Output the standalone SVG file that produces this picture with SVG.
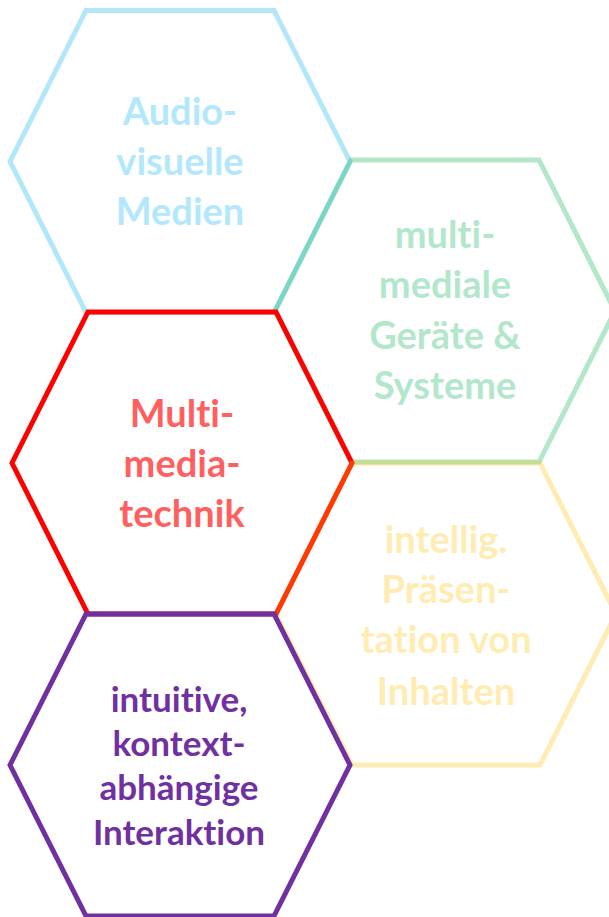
<svg xmlns="http://www.w3.org/2000/svg" width="609" height="917" viewBox="0 0 609 917">
<style>
.hex{fill:none;stroke-width:5;stroke-linejoin:miter}
.t{font-family:Lato,"Open Sans","Liberation Sans",sans-serif;font-weight:bold;text-anchor:middle;font-size:38px;font-variant-ligatures:none}
.t5{font-size:35px}
</style>
<defs>
<polygon id="hx" points="0,0 76,-151 264,-151 340,0 264,151 76,151"/>
</defs>
<g id="connectors"></g>
<g id="n1">
<use href="#hx" x="10" y="161.5" class="hex" stroke="#00B0F0" stroke-opacity="0.3"/>
<text class="t" fill="#B3E7FB"><tspan x="180" y="125">Audio-</tspan><tspan x="180" y="175">visuelle</tspan><tspan x="180" y="225">Medien</tspan></text>
</g>
<g id="n2">
<use href="#hx" x="275" y="311" class="hex" stroke="#00B050" stroke-opacity="0.3"/>
<text class="t" fill="#B3E7CB"><tspan x="445" y="248">multi-</tspan><tspan x="445" y="298">mediale</tspan><tspan x="445" y="349">Geräte &amp;</tspan><tspan x="445" y="399">Systeme</tspan></text>
</g>
<g id="n3">
<use href="#hx" x="12" y="463" class="hex" stroke="#FF0000"/>
<text class="t" fill="#FF5F5F"><tspan x="182" y="427">Multi-</tspan><tspan x="182" y="477">media-</tspan><tspan x="182" y="527">technik</tspan></text>
</g>
<g id="n4">
<use href="#hx" x="276" y="614" class="hex" stroke="#FFC000" stroke-opacity="0.3"/>
<text class="t" fill="#FFECB3"><tspan x="446" y="553">intellig.</tspan><tspan x="446" y="603">Präsen-</tspan><tspan x="446" y="653">tation von</tspan><tspan x="446" y="705">Inhalten</tspan></text>
</g>
<g id="n5">
<use href="#hx" x="10" y="765" class="hex" stroke="#7030A0"/>
<text class="t t5" fill="#7030A0"><tspan x="179" y="712">intuitive,</tspan><tspan x="179" y="756">kontext-</tspan><tspan x="179" y="800">abhängige</tspan><tspan x="179" y="845">Interaktion</tspan></text>
</g>
</svg>
